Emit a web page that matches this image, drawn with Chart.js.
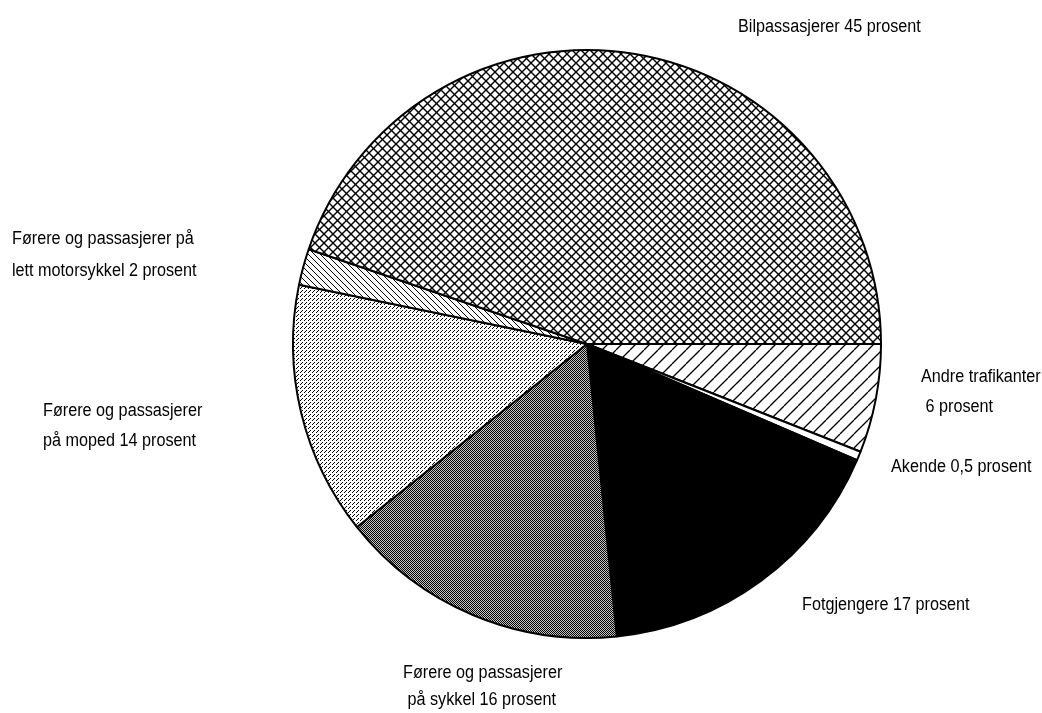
<!DOCTYPE html>
<html>
<head>
<meta charset="utf-8">
<script src="https://cdn.jsdelivr.net/npm/chart.js@4.4.1/dist/chart.umd.min.js"></script>
<style>
  html, body { margin: 0; padding: 0; background: #fff; }
</style>
</head>
<body>
<canvas id="pie" width="1042" height="713"></canvas>
<script>
// slices, clockwise from 3 o'clock
const categories = [
  'Andre trafikanter',
  'Akende',
  'Fotgjengere',
  'Førere og passasjerer på sykkel',
  'Førere og passasjerer på moped',
  'Førere og passasjerer på lett motorsykkel',
  'Bilpassasjerer'
];
const shares = [6, 0.5, 17, 16, 14, 2, 45];
const labelText = [
  ['Andre trafikanter', ' 6 prosent'],
  ['Akende 0,5 prosent'],
  ['Fotgjengere 17 prosent'],
  ['Førere og passasjerer', ' på sykkel 16 prosent'],
  ['Førere og passasjerer', 'på moped 14 prosent'],
  ['Førere og passasjerer på', 'lett motorsykkel 2 prosent'],
  ['Bilpassasjerer 45 prosent']
];
// where each label block sits (left x, first baseline y, line gap)
const labelPos = [
  [921, 382, 30],
  [891, 472, 0],
  [802, 610, 0],
  [403, 678, 27],
  [43, 416, 30],
  [12, 244, 32],
  [738, 32, 0]
];

function makePattern(size, bg, draw) {
  const c = document.createElement('canvas');
  c.width = size; c.height = size;
  const g = c.getContext('2d');
  g.fillStyle = bg;
  g.fillRect(0, 0, size, size);
  draw(g, size);
  return document.getElementById('pie').getContext('2d').createPattern(c, 'repeat');
}

function hatch(size, dirs, lw) {
  return makePattern(size, '#fff', (g, s) => {
    g.strokeStyle = '#000';
    g.lineWidth = lw;
    dirs.forEach(d => {
      for (let k = -1; k <= 1; k++) {
        g.beginPath();
        if (d === '/') { g.moveTo(k * s, s); g.lineTo(k * s + s, 0); }
        else { g.moveTo(k * s, 0); g.lineTo(k * s + s, s); }
        g.stroke();
      }
    });
  });
}

function dots(size, bg, pts) {
  return makePattern(size, bg, (g) => {
    g.fillStyle = '#000';
    pts.forEach(p => g.fillRect(p[0], p[1], 1, 1));
  });
}

const fills = [
  hatch(14, ['/'], 1.3),
  '#ffffff',
  '#000000',
  dots(2, '#c4c4c4', [[0, 0], [1, 1]]),
  dots(4, '#fff', [[0, 0], [2, 2], [1, 3]]),
  hatch(6, ['\\'], 1),
  hatch(9, ['/', '\\'], 1.4)
];

const labelPlugin = {
  id: 'labels',
  afterDraw(chart) {
    const ctx = chart.ctx;
    ctx.save();
    ctx.fillStyle = '#000';
    ctx.font = '18px "Liberation Sans", Arial, sans-serif';
    ctx.textBaseline = 'alphabetic';
    labelText.forEach((lines, i) => {
      const p = labelPos[i];
      lines.forEach((t, j) => {
        ctx.save();
        ctx.translate(p[0], p[1] + j * p[2]);
        ctx.scale(0.9, 1); // narrow face, like the original
        ctx.fillText(t, 0, 0);
        ctx.restore();
      });
    });
    ctx.restore();
  }
};

new Chart(document.getElementById('pie'), {
  type: 'pie',
  data: {
    labels: categories,
    datasets: [{
      data: shares,
      backgroundColor: fills,
      borderColor: '#000',
      borderWidth: 2
    }]
  },
  options: {
    responsive: false,
    animation: false,
    rotation: 90,
    layout: { padding: { left: 292, top: 49, right: 160, bottom: 74 } },
    plugins: {
      legend: { display: false },
      tooltip: { enabled: false }
    }
  },
  plugins: [labelPlugin]
});
</script>
</body>
</html>
